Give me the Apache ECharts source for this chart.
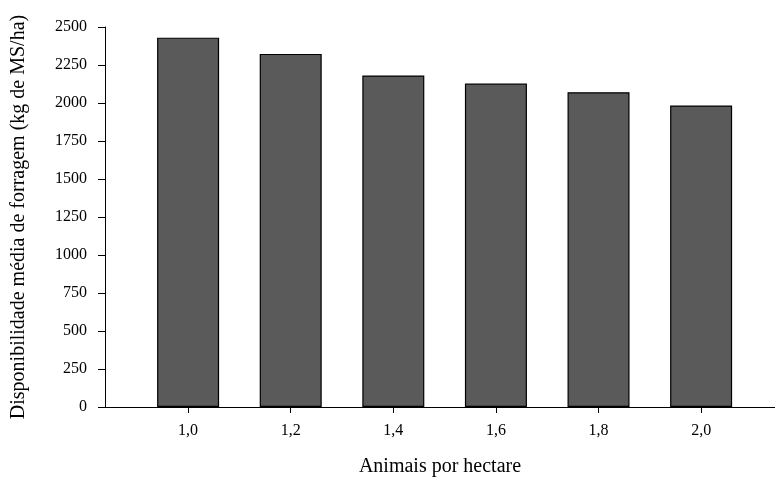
<!DOCTYPE html>
<html>
<head>
<meta charset="utf-8">
<script src="https://cdn.jsdelivr.net/npm/echarts@6/dist/echarts.min.js"></script>
<style>
html, body { margin: 0; padding: 0; background: #fff; }
#grafico { width: 775px; height: 477px; }
</style>
</head>
<body>
<div id="grafico"></div>
<script>
// dados
var categorias = ['1,0', '1,2', '1,4', '1,6', '1,8', '2,0'];
var disponibilidade = [2430, 2323, 2181, 2128, 2071, 1984];
var ticksY = [0, 250, 500, 750, 1000, 1250, 1500, 1750, 2000, 2250, 2500];

// posicao numerica de cada categoria (1,0 -> 1.0)
var posicoes = categorias.map(function (c) { return parseFloat(c.replace(',', '.')); });

var fonte = 'Liberation Serif, Times New Roman, serif';

var opcao = {
    animation: false,
    grid: {
        left: 105,
        right: 0,
        top: 27,
        bottom: 70,
        outerBoundsMode: 'none',
        containLabel: false
    },
    xAxis: {
        type: 'value',
        min: 0.838,
        max: 2.144,
        name: 'Animais por hectare',
        nameLocation: 'middle',
        nameGap: 50,
        nameTextStyle: { fontFamily: fonte, fontSize: 20, color: '#000' },
        splitLine: { show: false },
        axisLine: { onZero: false, lineStyle: { color: '#000', width: 1 } },
        axisTick: {
            customValues: posicoes,
            length: 6,
            lineStyle: { color: '#000' }
        },
        axisLabel: {
            customValues: posicoes,
            margin: 16,
            fontFamily: fonte,
            fontSize: 16,
            color: '#000',
            formatter: function (v) {
                var i = posicoes.indexOf(v);
                return i >= 0 ? categorias[i] : '';
            }
        }
    },
    yAxis: {
        type: 'value',
        min: 0,
        max: 2500,
        interval: 250,
        name: 'Disponibilidade média de forragem (kg de MS/ha)',
        nameLocation: 'middle',
        nameGap: 76,
        nameTextStyle: { fontFamily: fonte, fontSize: 20, color: '#000' },
        splitLine: { show: false },
        axisLine: { show: true, onZero: false, lineStyle: { color: '#000', width: 1 } },
        axisTick: { show: true, length: 7, lineStyle: { color: '#000' } },
        axisLabel: {
            margin: 18,
            fontFamily: fonte,
            fontSize: 16,
            color: '#000',
            formatter: function (v) { return ticksY.indexOf(v) >= 0 ? String(v) : ''; }
        }
    },
    series: [
        {
            type: 'bar',
            barWidth: 62,
            data: posicoes.map(function (x, i) { return [x, disponibilidade[i]]; }),
            itemStyle: {
                color: '#5a5a5a',
                borderColor: '#000',
                borderWidth: 1.2
            }
        }
    ]
};

var graficoDisp = echarts.init(document.getElementById('grafico'));
graficoDisp.setOption(opcao);
</script>
</body>
</html>
